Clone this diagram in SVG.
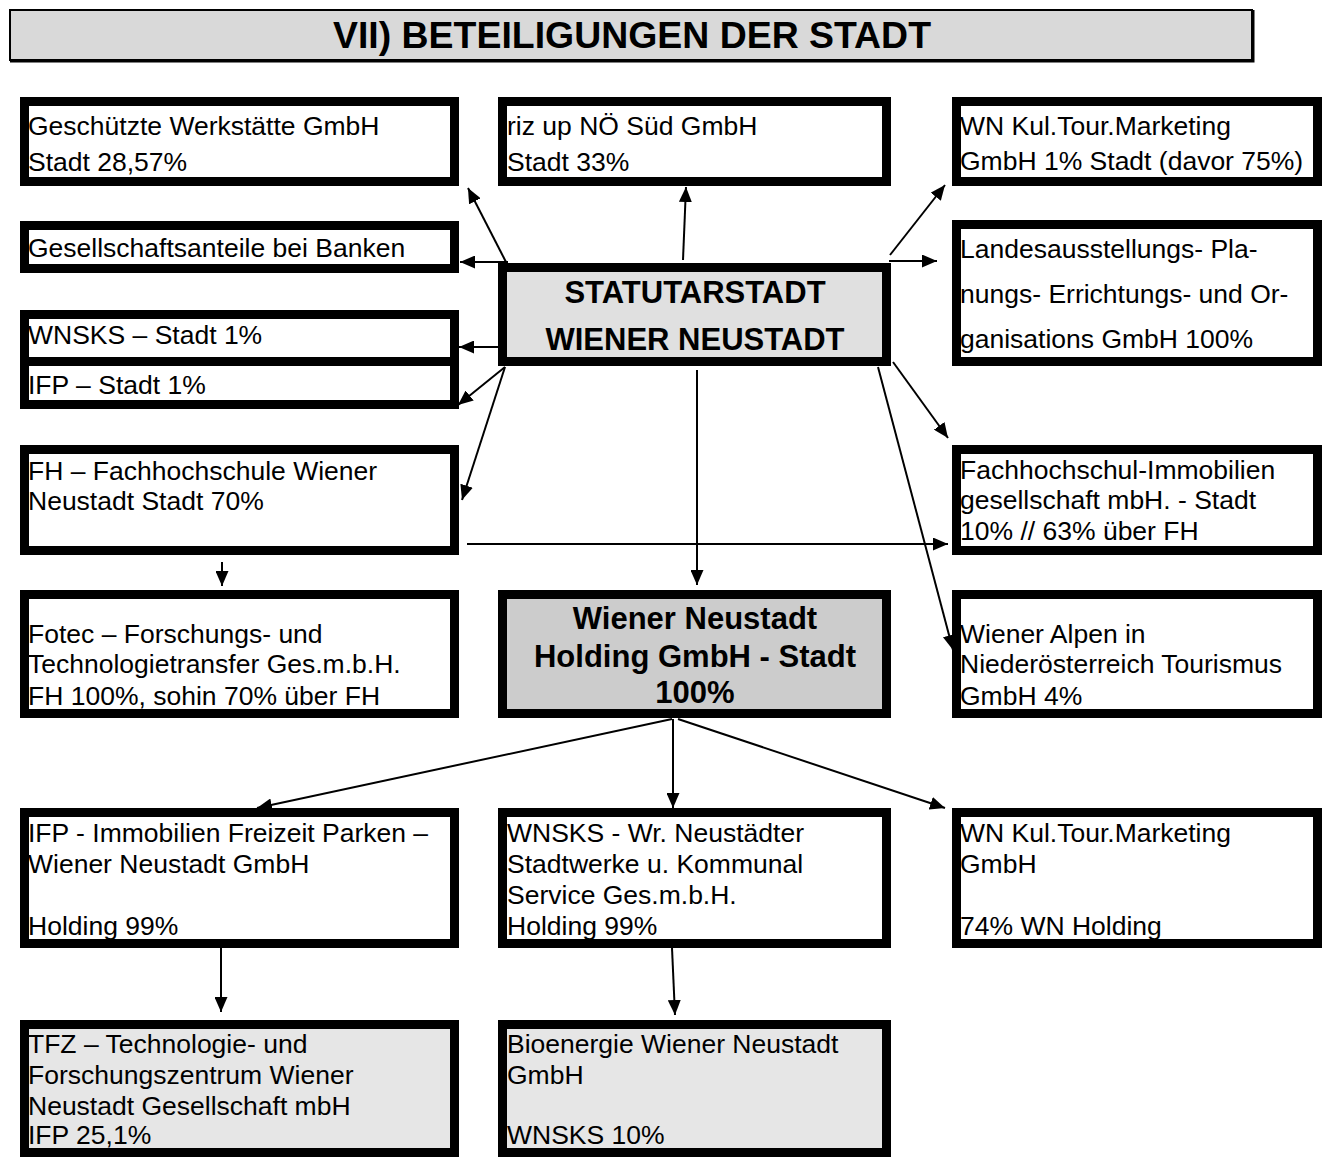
<svg xmlns="http://www.w3.org/2000/svg" width="1326" height="1163" viewBox="0 0 1326 1163">
<style>
.box{fill:#ffffff;stroke:#000;stroke-width:9}
.g1{fill:#e0e0e0}
.g2{fill:#cccccc}
.g3{fill:#e6e6e6}
text{font-family:"Liberation Sans",Arial,sans-serif;fill:#000}
.t{font-size:26.5px}
.b{font-size:31px;font-weight:bold;text-anchor:middle}
.c line{stroke:#000;stroke-width:2;marker-end:url(#ah)}
</style>
<defs>
<marker id="ah" markerUnits="userSpaceOnUse" markerWidth="15" markerHeight="13" refX="15" refY="6.5" orient="auto">
<path d="M0,0 L15,6.5 L0,13 z" fill="#000"/>
</marker>
</defs>
<rect width="1326" height="1163" fill="#fff"/>

<g id="title">
<rect x="10" y="10" width="1242" height="50" fill="#d9d9d9" stroke="#000" stroke-width="2"/>
<path d="M10,61 H1253 V10" fill="none" stroke="#000" stroke-width="3"/>
<text x="632" y="48" font-size="36" font-weight="bold" text-anchor="middle" textLength="598" lengthAdjust="spacingAndGlyphs">VII) BETEILIGUNGEN DER STADT</text>
</g>

<g id="n-geschuetzte"><rect class="box" x="24.5" y="101.5" width="430" height="80"/>
<text class="t" x="28" y="135">Geschützte Werkstätte GmbH</text>
<text class="t" x="28" y="171">Stadt 28,57%</text></g>

<g id="n-riz"><rect class="box" x="502.5" y="101.5" width="384" height="80"/>
<text class="t" x="507" y="135">riz up NÖ Süd GmbH</text>
<text class="t" x="507" y="171">Stadt 33%</text></g>

<g id="n-wnkul-top"><rect class="box" x="956.5" y="101.5" width="361" height="80"/>
<text class="t" x="960" y="135">WN Kul.Tour.Marketing</text>
<text class="t" x="960" y="170">GmbH 1% Stadt (davor 75%)</text></g>

<g id="n-banken"><rect class="box" x="24.5" y="225.5" width="430" height="43"/>
<text class="t" x="28" y="257">Gesellschaftsanteile bei Banken</text></g>

<g id="n-statutarstadt"><rect class="box g1" x="502.5" y="267.5" width="384" height="94"/>
<text class="b" x="695" y="303">STATUTARSTADT</text>
<text class="b" x="695" y="350">WIENER NEUSTADT</text></g>

<g id="n-landes"><rect class="box" x="956.5" y="224.5" width="361" height="137"/>
<text class="t" x="960" y="258">Landesausstellungs- Pla-</text>
<text class="t" x="960" y="303">nungs- Errichtungs- und Or-</text>
<text class="t" x="960" y="348">ganisations GmbH 100%</text></g>

<g id="n-wnsks-top"><rect class="box" x="24.5" y="314.5" width="430" height="47"/>
<text class="t" x="28" y="344">WNSKS – Stadt 1%</text></g>

<g id="n-ifp-top"><rect class="box" x="24.5" y="361.5" width="430" height="43"/>
<text class="t" x="28" y="394">IFP – Stadt 1%</text></g>

<g id="n-fh"><rect class="box" x="24.5" y="449.5" width="430" height="101"/>
<text class="t" x="28" y="480">FH – Fachhochschule Wiener</text>
<text class="t" x="28" y="510">Neustadt Stadt 70%</text></g>

<g id="n-fh-immo"><rect class="box" x="956.5" y="449.5" width="361" height="101"/>
<text class="t" x="960" y="479">Fachhochschul-Immobilien</text>
<text class="t" x="960" y="509">gesellschaft mbH. - Stadt</text>
<text class="t" x="960" y="540">10% // 63% über FH</text></g>

<g id="n-fotec"><rect class="box" x="24.5" y="594.5" width="430" height="119"/>
<text class="t" x="28" y="643">Fotec – Forschungs- und</text>
<text class="t" x="28" y="673">Technologietransfer Ges.m.b.H.</text>
<text class="t" x="28" y="705">FH 100%, sohin 70% über FH</text></g>

<g id="n-holding"><rect class="box g2" x="502.5" y="594.5" width="384" height="119"/>
<text class="b" x="695" y="629">Wiener Neustadt</text>
<text class="b" x="695" y="667">Holding GmbH - Stadt</text>
<text class="b" x="695" y="703">100%</text></g>

<g id="n-wieneralpen"><rect class="box" x="956.5" y="594.5" width="361" height="119"/>
<text class="t" x="960" y="643">Wiener Alpen in</text>
<text class="t" x="960" y="673">Niederösterreich Tourismus</text>
<text class="t" x="960" y="705">GmbH 4%</text></g>

<g id="n-ifp"><rect class="box" x="24.5" y="812.5" width="430" height="131"/>
<text class="t" x="28" y="842">IFP  - Immobilien Freizeit Parken –</text>
<text class="t" x="28" y="873">Wiener Neustadt GmbH</text>
<text class="t" x="28" y="935">Holding 99%</text></g>

<g id="n-wnsks"><rect class="box" x="502.5" y="812.5" width="384" height="131"/>
<text class="t" x="507" y="842">WNSKS - Wr. Neustädter</text>
<text class="t" x="507" y="873">Stadtwerke u. Kommunal</text>
<text class="t" x="507" y="904">Service Ges.m.b.H.</text>
<text class="t" x="507" y="935">Holding 99%</text></g>

<g id="n-wnkul"><rect class="box" x="956.5" y="812.5" width="361" height="131"/>
<text class="t" x="960" y="842">WN Kul.Tour.Marketing</text>
<text class="t" x="960" y="873">GmbH</text>
<text class="t" x="960" y="935">74% WN Holding</text></g>

<g id="n-tfz"><rect class="box g3" x="24.5" y="1024.5" width="430" height="128"/>
<text class="t" x="28" y="1053">TFZ – Technologie- und</text>
<text class="t" x="28" y="1084">Forschungszentrum Wiener</text>
<text class="t" x="28" y="1115">Neustadt Gesellschaft mbH</text>
<text class="t" x="28" y="1144">IFP 25,1%</text></g>

<g id="n-bio"><rect class="box g3" x="502.5" y="1024.5" width="384" height="128"/>
<text class="t" x="507" y="1053">Bioenergie Wiener Neustadt</text>
<text class="t" x="507" y="1084">GmbH</text>
<text class="t" x="507" y="1144">WNSKS 10%</text></g>

<g id="connectors" class="c">
<line x1="683" y1="260" x2="686" y2="187"/>
<line x1="506" y1="262" x2="468" y2="188"/>
<line x1="508" y1="262" x2="460" y2="262"/>
<line x1="500" y1="347" x2="459" y2="347"/>
<line x1="505" y1="367" x2="458" y2="405"/>
<line x1="505" y1="367" x2="462" y2="500"/>
<line x1="697" y1="370" x2="697" y2="585"/>
<line x1="890" y1="255" x2="945" y2="185"/>
<line x1="889" y1="261" x2="937" y2="261"/>
<line x1="893" y1="362" x2="948" y2="438"/>
<line x1="878" y1="367" x2="953" y2="650"/>
<line x1="467" y1="544" x2="948" y2="544"/>
<line x1="222" y1="562" x2="222" y2="586"/>
<line x1="672" y1="719" x2="257" y2="808"/>
<line x1="673" y1="719" x2="673" y2="808"/>
<line x1="678" y1="719" x2="945" y2="808"/>
<line x1="221" y1="948" x2="221" y2="1012"/>
<line x1="672" y1="948" x2="675" y2="1015"/>
</g>
</svg>
